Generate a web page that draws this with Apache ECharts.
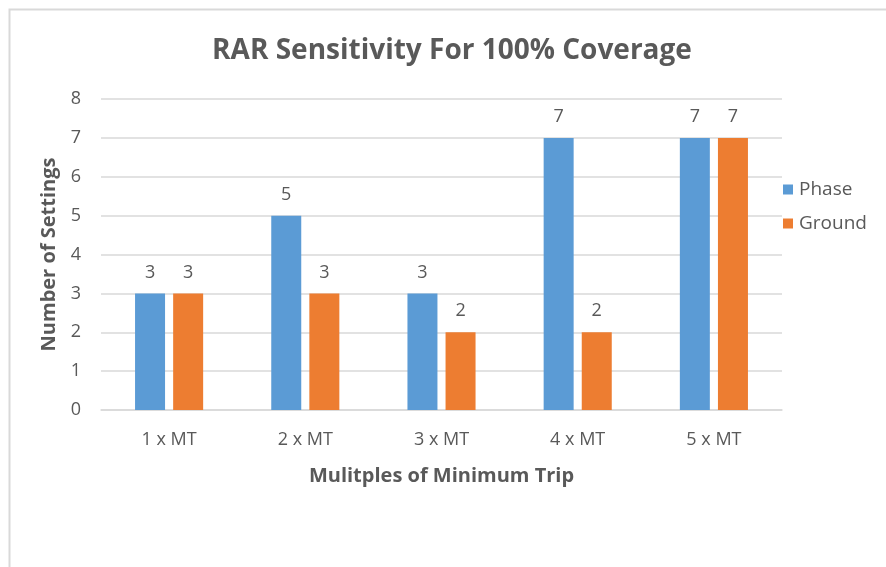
<!DOCTYPE html>
<html>
<head>
<meta charset="utf-8">
<script src="https://cdn.jsdelivr.net/npm/echarts@6/dist/echarts.min.js"></script>
<style>
html,body{margin:0;padding:0;background:#fff;}
#chart{width:886px;height:567px;}
</style>
</head>
<body>
<div id="chart"></div>
<script>
const categories = ['1 x MT', '2 x MT', '3 x MT', '4 x MT', '5 x MT'];
const phase = [3, 5, 3, 7, 7];
const ground = [3, 3, 2, 2, 7];
const yTicks = [0, 1, 2, 3, 4, 5, 6, 7, 8];

const FONT = '"Open Sans", "Noto Sans", sans-serif';
const GRAY = '#595959';

const chart = echarts.init(document.getElementById('chart'));
chart.setOption({
  backgroundColor: '#fff',
  animation: false,
  textStyle: { fontFamily: FONT },
  graphic: [{
    type: 'rect',
    shape: { x: 9.5, y: 9.5, width: 900, height: 600 },
    style: { fill: 'none', stroke: '#d9d9d9', lineWidth: 2 },
    silent: true
  }],
  title: {
    text: 'RAR Sensitivity For 100% Coverage',
    left: 447, top: 32, textAlign: 'center',
    textStyle: { fontFamily: FONT, fontSize: 28, fontWeight: 'bold', color: GRAY }
  },
  legend: {
    orient: 'vertical',
    left: 778, top: 175,
    itemWidth: 10, itemHeight: 10, itemGap: 15,
    icon: 'rect',
    textStyle: { fontFamily: FONT, fontSize: 19, color: GRAY, padding: [0, 0, 0, 1] },
    data: ['Phase', 'Ground']
  },
  grid: { left: 101, right: 104, top: 99, bottom: 157, containLabel: false },
  xAxis: {
    type: 'category',
    data: categories,
    name: 'Mulitples of Minimum Trip',
    nameLocation: 'middle',
    nameGap: 56,
    nameTextStyle: { fontFamily: FONT, fontSize: 20, fontWeight: 'bold', color: GRAY },
    axisLine: { lineStyle: { color: '#d9d9d9', width: 1.5 } },
    axisTick: { show: false },
    axisLabel: { fontFamily: FONT, fontSize: 18, color: GRAY, margin: 21 }
  },
  yAxis: {
    type: 'value',
    min: yTicks[0], max: yTicks[yTicks.length - 1], interval: 1,
    name: 'Number of Settings',
    nameLocation: 'middle',
    nameGap: 42,
    nameRotate: 90,
    nameTextStyle: { fontFamily: FONT, fontSize: 20, fontWeight: 'bold', color: GRAY },
    axisLine: { show: false },
    axisTick: { show: false },
    axisLabel: { fontFamily: FONT, fontSize: 18, color: GRAY, margin: 20 },
    splitLine: { lineStyle: { color: '#d9d9d9', width: 1.5 } }
  },
  series: [
    {
      name: 'Phase', type: 'bar', data: phase,
      barWidth: 30, barGap: '27%',
      itemStyle: { color: '#5B9BD5' },
      label: { show: true, position: 'top', distance: 12, fontFamily: FONT, fontSize: 18, color: GRAY }
    },
    {
      name: 'Ground', type: 'bar', data: ground,
      barWidth: 30,
      itemStyle: { color: '#ED7D31' },
      label: { show: true, position: 'top', distance: 12, fontFamily: FONT, fontSize: 18, color: GRAY }
    }
  ]
});
</script>
</body>
</html>
